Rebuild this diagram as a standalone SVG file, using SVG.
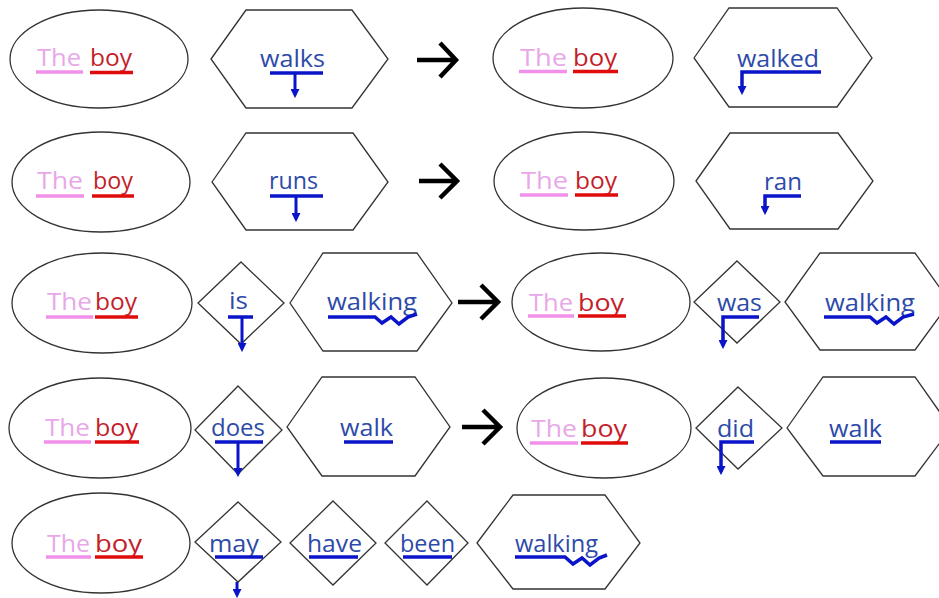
<svg xmlns="http://www.w3.org/2000/svg" width="939" height="598" viewBox="0 0 939 598">
<style>
.shape{fill:#fff;stroke:#333;stroke-width:1.3}
text{font-family:"Open Sans","Noto Sans",sans-serif;font-size:23px}
.the{fill:#e8a8e8}
.boy{fill:#c41e2a}
.vb{fill:#2d4aa8}
.ult{stroke:#f090ea;stroke-width:3.5;fill:none}
.ulb{stroke:#e00b0b;stroke-width:3.5;fill:none}
.ulv{stroke:#0a14c8;stroke-width:3.5;fill:none}
.tense{stroke:#0a14c8;stroke-width:3;fill:none;marker-end:url(#ah)}
.tl{stroke:#0a14c8;stroke-width:3.5;fill:none;marker-end:url(#ah)}
.conn{stroke:#000;stroke-width:4.5;fill:none}
</style>
<defs>
<marker id="ah" viewBox="0 0 10 10" refX="6" refY="5" markerWidth="9" markerHeight="9" markerUnits="userSpaceOnUse" orient="auto"><path d="M0,0 L10,5 L0,10 z" fill="#0a14c8"/></marker>
</defs>
<rect width="939" height="598" fill="#fff"/>

<!-- Row 1 -->
<g id="np1a">
<ellipse class="shape" cx="99" cy="59" rx="89" ry="49"/>
<text class="the" x="37" y="66" textLength="44" lengthAdjust="spacingAndGlyphs">The</text>
<text class="boy" x="90" y="66" textLength="42" lengthAdjust="spacingAndGlyphs">boy</text>
<line class="ult" x1="36" y1="72" x2="83" y2="72"/>
<line class="ulb" x1="90" y1="72.5" x2="133" y2="72.5"/>
</g>
<g id="vp1a">
<polygon class="shape" points="211,59 246,10 352,10 388,59 352,108 246,108"/>
<text class="vb" x="260" y="67" textLength="65" lengthAdjust="spacingAndGlyphs">walks</text>
<line class="ulv" x1="270" y1="73" x2="323" y2="73"/>
<line class="tense" x1="295" y1="73" x2="295" y2="94.5"/>
</g>
<g id="np1b">
<ellipse class="shape" cx="583" cy="58" rx="90" ry="50"/>
<text class="the" x="520" y="66" textLength="47" lengthAdjust="spacingAndGlyphs">The</text>
<text class="boy" x="573" y="66" textLength="44" lengthAdjust="spacingAndGlyphs">boy</text>
<line class="ult" x1="519" y1="71.5" x2="567" y2="71.5"/>
<line class="ulb" x1="573" y1="71.5" x2="618" y2="71.5"/>
</g>
<g id="vp1b">
<polygon class="shape" points="694,58 729,8 837,8 872,58 837,107 729,107"/>
<text class="vb" x="737" y="67" textLength="82" lengthAdjust="spacingAndGlyphs">walked</text>
<path class="tl" d="M821,72 H742 V91.5"/>
</g>

<!-- Row 2 -->
<g id="np2a">
<ellipse class="shape" cx="101" cy="182" rx="89" ry="50"/>
<text class="the" x="37" y="189" textLength="46" lengthAdjust="spacingAndGlyphs">The</text>
<text class="boy" x="93" y="189" textLength="40" lengthAdjust="spacingAndGlyphs">boy</text>
<line class="ult" x1="36" y1="196" x2="84" y2="196"/>
<line class="ulb" x1="92" y1="196" x2="134" y2="196"/>
</g>
<g id="vp2a">
<polygon class="shape" points="212,182 246,133 353,133 388,182 353,230 246,230"/>
<text class="vb" x="269" y="189" textLength="49" lengthAdjust="spacingAndGlyphs">runs</text>
<line class="ulv" x1="270" y1="196" x2="323" y2="196"/>
<line class="tense" x1="296" y1="196" x2="296" y2="218.5"/>
</g>
<g id="np2b">
<ellipse class="shape" cx="584" cy="181" rx="90" ry="49"/>
<text class="the" x="521" y="189" textLength="47" lengthAdjust="spacingAndGlyphs">The</text>
<text class="boy" x="575" y="189" textLength="42" lengthAdjust="spacingAndGlyphs">boy</text>
<line class="ult" x1="520" y1="195" x2="568" y2="195"/>
<line class="ulb" x1="575" y1="195" x2="618" y2="195"/>
</g>
<g id="vp2b">
<polygon class="shape" points="696,181 730,133 838,133 873,181 838,229 730,229"/>
<text class="vb" x="764" y="190" textLength="38" lengthAdjust="spacingAndGlyphs">ran</text>
<path class="tl" d="M801,196 H765 V211.5"/>
</g>

<!-- Row 3 -->
<g id="np3a">
<ellipse class="shape" cx="102" cy="303" rx="90" ry="50"/>
<text class="the" x="47" y="310" textLength="45" lengthAdjust="spacingAndGlyphs">The</text>
<text class="boy" x="95" y="310" textLength="42" lengthAdjust="spacingAndGlyphs">boy</text>
<line class="ult" x1="46" y1="317" x2="93" y2="317"/>
<line class="ulb" x1="95" y1="317" x2="138" y2="317"/>
</g>
<g id="aux3a">
<polygon class="shape" points="241,262 284,303 241,344 198,303"/>
<text class="vb" x="229" y="309" textLength="19" lengthAdjust="spacingAndGlyphs">is</text>
<line class="ulv" x1="228" y1="317" x2="253" y2="317"/>
<line class="tense" x1="242" y1="317" x2="242" y2="348.5"/>
</g>
<g id="vp3a">
<polygon class="shape" points="290,303 323,253 417,253 452,303 417,351 323,351"/>
<text class="vb" x="327" y="310" textLength="90" lengthAdjust="spacingAndGlyphs">walking</text>
<path class="ulv" d="M328,317 H375 L382,323 L391,317 L399,324 L408,317 L417,314"/>
</g>
<g id="np3b">
<ellipse class="shape" cx="601" cy="302" rx="89" ry="49"/>
<text class="the" x="529" y="311" textLength="44" lengthAdjust="spacingAndGlyphs">The</text>
<text class="boy" x="578" y="311" textLength="46" lengthAdjust="spacingAndGlyphs">boy</text>
<line class="ult" x1="528" y1="316" x2="574" y2="316"/>
<line class="ulb" x1="578" y1="316" x2="626" y2="316"/>
</g>
<g id="aux3b">
<polygon class="shape" points="737,261 780,302 737,343 694,302"/>
<text class="vb" x="717" y="311" textLength="45" lengthAdjust="spacingAndGlyphs">was</text>
<path class="tl" d="M759,317 H723 V345.5"/>
</g>
<g id="vp3b">
<polygon class="shape" points="785,302 820,253 915,253 950,302 915,350 820,350"/>
<text class="vb" x="825" y="311" textLength="90" lengthAdjust="spacingAndGlyphs">walking</text>
<path class="ulv" d="M824,317 H870 L877,323 L886,317 L894,324 L903,317 L914,314"/>
</g>

<!-- Row 4 -->
<g id="np4a">
<ellipse class="shape" cx="100" cy="428" rx="91" ry="50"/>
<text class="the" x="45" y="436" textLength="45" lengthAdjust="spacingAndGlyphs">The</text>
<text class="boy" x="95" y="436" textLength="43" lengthAdjust="spacingAndGlyphs">boy</text>
<line class="ult" x1="44" y1="442" x2="91" y2="442"/>
<line class="ulb" x1="95" y1="442" x2="139" y2="442"/>
</g>
<g id="aux4a">
<polygon class="shape" points="238,386 282,430 238,474 195,430"/>
<text class="vb" x="211" y="436" textLength="54" lengthAdjust="spacingAndGlyphs">does</text>
<line class="ulv" x1="215" y1="442" x2="263" y2="442"/>
<line class="tense" x1="238" y1="442" x2="238" y2="473.5"/>
</g>
<g id="vp4a">
<polygon class="shape" points="287,427 322,377 415,377 450,427 415,476 322,476"/>
<text class="vb" x="340" y="436" textLength="53" lengthAdjust="spacingAndGlyphs">walk</text>
<line class="ulv" x1="344" y1="442" x2="393" y2="442"/>
</g>
<g id="np4b">
<ellipse class="shape" cx="604" cy="428" rx="87" ry="50"/>
<text class="the" x="531" y="437" textLength="46" lengthAdjust="spacingAndGlyphs">The</text>
<text class="boy" x="581" y="437" textLength="46" lengthAdjust="spacingAndGlyphs">boy</text>
<line class="ult" x1="530" y1="443" x2="578" y2="443"/>
<line class="ulb" x1="581" y1="443" x2="628" y2="443"/>
</g>
<g id="aux4b">
<polygon class="shape" points="738,387 782,428 738,469 696,428"/>
<text class="vb" x="717" y="437" textLength="37" lengthAdjust="spacingAndGlyphs">did</text>
<path class="tl" d="M754,442 H721 V471.5"/>
</g>
<g id="vp4b">
<polygon class="shape" points="787,428 823,377 915,377 951,428 915,476 823,476"/>
<text class="vb" x="829" y="437" textLength="53" lengthAdjust="spacingAndGlyphs">walk</text>
<line class="ulv" x1="830" y1="442" x2="881" y2="442"/>
</g>

<!-- Row 5 -->
<g id="np5">
<ellipse class="shape" cx="101" cy="543" rx="89" ry="50"/>
<text class="the" x="47" y="552" textLength="43" lengthAdjust="spacingAndGlyphs">The</text>
<text class="boy" x="95" y="552" textLength="47" lengthAdjust="spacingAndGlyphs">boy</text>
<line class="ult" x1="46" y1="557" x2="91" y2="557"/>
<line class="ulb" x1="95" y1="557" x2="143" y2="557"/>
</g>
<g id="aux5a">
<polygon class="shape" points="238,502 281,542 238,582 195,542"/>
<text class="vb" x="209" y="552" textLength="50" lengthAdjust="spacingAndGlyphs">may</text>
<line class="ulv" x1="215" y1="557" x2="263" y2="557"/>
<line class="tense" x1="237" y1="582" x2="237" y2="594.5"/>
</g>
<g id="aux5b">
<polygon class="shape" points="333,501 376,543 333,585 290,543"/>
<text class="vb" x="307" y="552" textLength="55" lengthAdjust="spacingAndGlyphs">have</text>
<line class="ulv" x1="309" y1="557" x2="358" y2="557"/>
</g>
<g id="aux5c">
<polygon class="shape" points="427,501 468,543 427,585 385,543"/>
<text class="vb" x="400" y="552" textLength="55" lengthAdjust="spacingAndGlyphs">been</text>
<line class="ulv" x1="403" y1="557" x2="452" y2="557"/>
</g>
<g id="vp5">
<polygon class="shape" points="477,543 513,495 605,495 640,543 605,589 513,589"/>
<text class="vb" x="515" y="552" textLength="83" lengthAdjust="spacingAndGlyphs">walking</text>
<path class="ulv" d="M515,557 H565 L573,564 L582,558 L590,565 L599,558 L607,555"/>
</g>

<!-- Connectors -->
<g id="connectors">
<path class="conn" d="M417,60 H455 M440,43 L456,60 L440,77"/>
<path class="conn" d="M419,181 H456 M440,164 L457,181 L440,198"/>
<path class="conn" d="M458,302 H496 M481,285 L498,302 L481,319"/>
<path class="conn" d="M462,427 H498 M483,410 L500,427 L483,444"/>
</g>
</svg>
